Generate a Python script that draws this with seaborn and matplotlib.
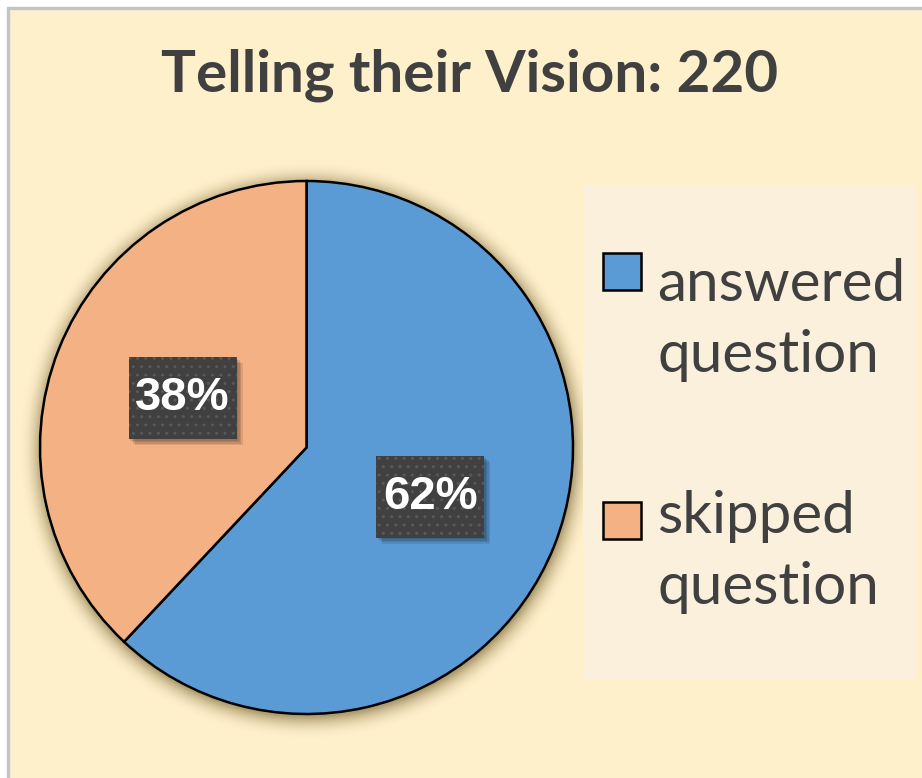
import numpy as np
import matplotlib
matplotlib.use("Agg")
import matplotlib.pyplot as plt
import matplotlib.patheffects as pe
from matplotlib.patches import Rectangle
import seaborn as sns

# Survey responses for the "Telling their Vision" question
categories = ["answered\nquestion", "skipped\nquestion"]
shares = [62, 38]
respondents = 220
title = f"Telling their Vision: {respondents}"

sns.set_theme(style="white")
plt.rcParams["font.family"] = ["Lato", "DejaVu Sans"]

W, H, DPI = 922, 778, 100
fig = plt.figure(figsize=(W / DPI, H / DPI), dpi=DPI, facecolor="white")

def fx(px):
    return px / W

def fy(py):
    return 1 - py / H

# chart area with a thin grey frame on its top and left edges
fig.patches.append(Rectangle((fx(9), 0), 1, fy(9), transform=fig.transFigure,
                             facecolor="#FFF0CC", edgecolor="none", zorder=-2))
fig.add_artist(plt.Line2D([fx(8), fx(8)], [0, fy(8)], transform=fig.transFigure,
                          color="#C4C4C4", lw=2.5, zorder=-1))
fig.add_artist(plt.Line2D([fx(8), 1], [fy(8), fy(8)], transform=fig.transFigure,
                          color="#C4C4C4", lw=2.5, zorder=-1))

palette = sns.color_palette(["#5B9BD5", "#F4B183"])

# pie axes: centre (306.5, 447.5) px, radius 266.5 px, limits +/-1.15
R = 266.5
cx, cy = 306.5, 447.5
half = R * 1.15
ax = fig.add_axes([fx(cx - half), fy(cy + half), 2 * half / W, 2 * half / H])
ax.set_zorder(1)
ax.patch.set_alpha(0)

# soft glow around the pie
g = np.linspace(-1.15, 1.15, 800)
X, Y = np.meshgrid(g, g)
D = np.sqrt((X - 0.004) ** 2 + (Y + 0.01) ** 2)
alpha = np.where(D < 1, 0.6, 0.6 * np.clip(1 - (D - 1) / 0.09, 0, 1) ** 2.2)
shadow = np.zeros((800, 800, 4))
shadow[..., :3] = matplotlib.colors.to_rgb("#7A6530")
shadow[..., 3] = alpha
ax.imshow(shadow, extent=(-1.15, 1.15, -1.15, 1.15), origin="lower",
          interpolation="bilinear", zorder=0)

wedges, _, autotexts = ax.pie(
    shares, colors=palette, startangle=90, counterclock=False,
    autopct="%1.0f%%", pctdistance=0.5, radius=1,
    wedgeprops=dict(edgecolor="black", linewidth=1.8),
    textprops=dict(color="white", fontsize=34, fontweight="bold",
                   family=["Liberation Sans", "DejaVu Sans"]),
)
ax.set_xlim(-1.15, 1.15)
ax.set_ylim(-1.15, 1.15)
ax.set_aspect("equal")
ax.axis("off")
for w in wedges:
    w.set_zorder(2)

# dark dotted label boxes with a soft drop shadow
bw, bh = 108 / R, 82 / R
for t in autotexts:
    x0, y0 = t.get_position()
    for k, a in enumerate([0.10, 0.10, 0.10, 0.10]):
        off = (1.5 + k * 1.5) / R
        ax.add_patch(Rectangle((x0 - bw / 2 + off, y0 - bh / 2 - off), bw, bh,
                               facecolor="black", alpha=a, linewidth=0, zorder=2.5))
    box = Rectangle((x0 - bw / 2, y0 - bh / 2), bw, bh, facecolor="#404040",
                    edgecolor="#585858", linewidth=0, hatch="..", zorder=3)
    ax.add_patch(box)
    t.set_zorder(4)
    t.set_va("center")
    t.set_ha("center")

fig.text(fx(470), fy(75), title, ha="center", va="center", fontsize=42,
         fontweight="bold", color="#404040")

# legend panel
fig.patches.append(Rectangle((fx(583), fy(680)), fx(915 - 583), (680 - 185) / H,
                             transform=fig.transFigure, facecolor="#FAF0DC",
                             edgecolor="none", zorder=1))
marker_tops = [253, 502]
last_baselines = [372, 604]
for lab, col, mt, bl in zip(categories, palette, marker_tops, last_baselines):
    fig.patches.append(Rectangle((fx(603), fy(mt + 37)), fx(38), 37 / H,
                                 transform=fig.transFigure, facecolor=col,
                                 edgecolor="black", linewidth=1.8, zorder=2))
    fig.text(fx(657), fy(bl), lab, ha="left", va="baseline", fontsize=42,
             color="#404040", linespacing=1.42, zorder=3)

fig.savefig("out.png", dpi=DPI, facecolor="white")
